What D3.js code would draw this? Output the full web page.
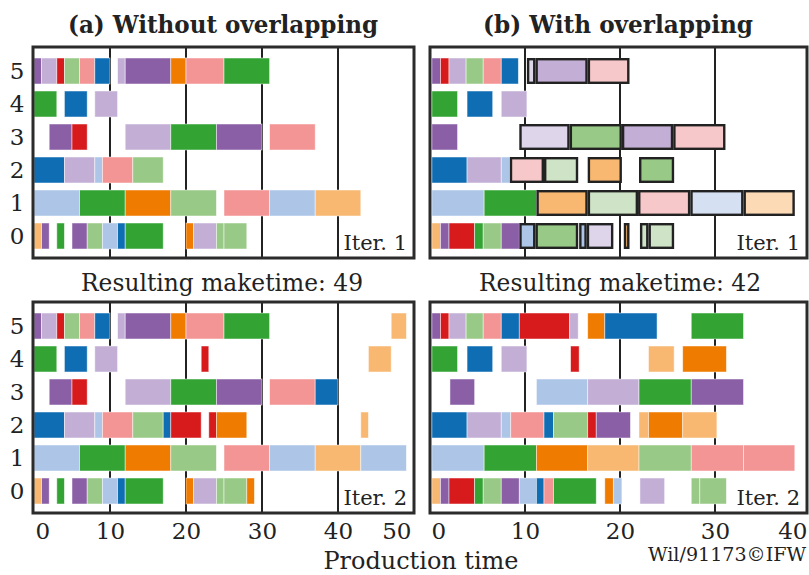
<!DOCTYPE html>
<html>
<head>
<meta charset="utf-8">
<script src="https://cdn.jsdelivr.net/npm/d3@7"></script>
<style>
  body { margin: 0; background: #fff; }
  svg text { font-family: "DejaVu Serif", "Liberation Serif", serif; fill: #222; }
</style>
</head>
<body>
<svg id="chart" width="809" height="575"></svg>
<script>
// machines (rows) and x tick values
const machines = [0, 1, 2, 3, 4, 5];
const ticksA = [0, 10, 20, 30, 40, 50];
const ticksB = [0, 10, 20, 30, 40];

// job colour keys: B/b blue, O/o orange, G/g green, R/r red, P/p purple; doubled = pale
const jobColors = {
  B: '#0f6db3', b: '#adc6e7', O: '#ef7b00', o: '#f8b872', G: '#33a334', g: '#99c987',
  R: '#d71b1d', r: '#f29594', P: '#8a5fa6', p: '#c3afd6',
  pp: '#ded5eb', gg: '#cfe4c6', rr: '#f7c8c9', bb: '#d5e1f2', oo: '#fcdab6'
};

// [machine, start, end, job]  -- (a) without overlapping, iteration 1
const schedA1 = [
  [5, 0, 1, 'P'], [5, 1, 3, 'p'], [5, 3, 4, 'R'], [5, 4, 6, 'g'], [5, 6, 8, 'r'], [5, 8, 10, 'B'],
  [5, 11, 12, 'p'], [5, 12, 18, 'P'], [5, 18, 20, 'O'], [5, 20, 25, 'r'], [5, 25, 31, 'G'],
  [4, 0, 3, 'G'], [4, 4, 7, 'B'], [4, 8, 11, 'p'],
  [3, 2, 5, 'P'], [3, 5, 7, 'R'], [3, 12, 18, 'p'], [3, 18, 24, 'G'], [3, 24, 30, 'P'], [3, 31, 37, 'r'],
  [2, 0, 4, 'B'], [2, 4, 8, 'p'], [2, 8, 9, 'b'], [2, 9, 13, 'r'], [2, 13, 17, 'g'],
  [1, 0, 6, 'b'], [1, 6, 12, 'G'], [1, 12, 18, 'O'], [1, 18, 24, 'g'], [1, 25, 31, 'r'], [1, 31, 37, 'b'], [1, 37, 43, 'o'],
  [0, 0, 1, 'o'], [0, 1, 2, 'P'], [0, 3, 4, 'G'], [0, 5, 7, 'P'], [0, 7, 9, 'g'], [0, 9, 11, 'b'], [0, 11, 12, 'B'],
  [0, 12, 17, 'G'], [0, 20, 21, 'O'], [0, 21, 24, 'p'], [0, 24, 25, 'g'], [0, 25, 28, 'g']
];

// operations added in iteration 2 of (a)
const schedA2Added = [
  [5, 47, 49, 'o'],
  [4, 22, 23, 'R'], [4, 44, 47, 'o'],
  [3, 37, 40, 'B'],
  [2, 17, 18, 'B'], [2, 18, 22, 'R'], [2, 23, 24, 'R'], [2, 24, 28, 'O'], [2, 43, 44, 'o'],
  [1, 43, 49, 'b'],
  [0, 28, 29, 'O']
];
const schedA2 = schedA1.concat(schedA2Added);

// (b) with overlapping, iteration 1 -- 5th field marks overlapped operations
const schedB1 = [
  [5, 0.2, 1.1, 'P'], [5, 1.1, 2, 'R'], [5, 2, 3.8, 'p'], [5, 3.8, 5.6, 'g'], [5, 5.6, 7.5, 'r'], [5, 7.5, 9.3, 'B'],
  [5, 10.2, 11.1, 'pp', 1], [5, 11.1, 16.6, 'p', 1], [5, 16.6, 21.0, 'rr', 1],
  [4, 0.2, 2.9, 'G'], [4, 3.9, 6.6, 'B'], [4, 7.5, 10.2, 'p'],
  [3, 0.2, 2.9, 'P'], [3, 9.4, 14.7, 'pp', 1], [3, 14.7, 20.2, 'g', 1], [3, 20.2, 25.6, 'p', 1], [3, 25.6, 31.1, 'rr', 1],
  [2, 0.2, 3.9, 'B'], [2, 3.9, 7.5, 'p'], [2, 7.5, 8.4, 'b'],
  [2, 8.4, 12.0, 'rr', 1], [2, 12.0, 15.6, 'gg', 1], [2, 16.6, 20.2, 'o', 1], [2, 22.0, 25.7, 'g', 1],
  [1, 0.2, 5.7, 'b'], [1, 5.7, 11.2, 'G'],
  [1, 11.2, 16.6, 'o', 1], [1, 16.6, 21.9, 'gg', 1], [1, 21.9, 27.4, 'rr', 1], [1, 27.4, 33.0, 'bb', 1], [1, 33.0, 38.4, 'oo', 1],
  [0, 0.2, 1.1, 'o'], [0, 1.1, 2, 'P'], [0, 2, 4.7, 'R'], [0, 4.7, 5.6, 'G'], [0, 5.6, 7.5, 'g'], [0, 7.5, 9.4, 'P'],
  [0, 9.4, 11.1, 'b', 1], [0, 11.1, 15.6, 'g', 1], [0, 15.7, 16.5, 'b', 1], [0, 16.5, 19.3, 'pp', 1],
  [0, 20.4, 21.0, 'o', 1], [0, 22.1, 23.0, 'gg', 1], [0, 23.0, 25.7, 'gg', 1]
];

// (b) with overlapping, iteration 2
const schedB2 = [
  [5, 0.2, 1.1, 'P'], [5, 1.1, 2, 'R'], [5, 2, 3.8, 'p'], [5, 3.8, 5.6, 'g'], [5, 5.6, 7.5, 'r'], [5, 7.5, 9.4, 'B'],
  [5, 9.4, 14.7, 'R'], [5, 14.7, 15.6, 'p'], [5, 16.6, 18.4, 'O'], [5, 18.4, 23.9, 'B'], [5, 27.5, 33.0, 'G'],
  [4, 0.2, 2.9, 'G'], [4, 3.9, 6.6, 'B'], [4, 7.5, 10.2, 'p'], [4, 14.8, 15.7, 'R'], [4, 23.0, 25.7, 'o'], [4, 26.6, 31.2, 'O'],
  [3, 2.1, 4.7, 'P'], [3, 11.2, 16.6, 'b'], [3, 16.6, 22.0, 'p'], [3, 22.0, 27.5, 'G'], [3, 27.5, 33.0, 'P'],
  [2, 0.2, 3.9, 'B'], [2, 3.9, 7.5, 'p'], [2, 7.5, 8.5, 'b'], [2, 8.5, 12.0, 'r'], [2, 12.0, 13.0, 'B'], [2, 13.0, 16.6, 'g'],
  [2, 16.6, 17.5, 'R'], [2, 17.5, 21.1, 'P'], [2, 22.0, 23.0, 'o'], [2, 23.0, 26.6, 'O'], [2, 26.6, 30.2, 'o'],
  [1, 0.2, 5.7, 'b'], [1, 5.7, 11.2, 'G'], [1, 11.2, 16.6, 'O'], [1, 16.6, 22.0, 'o'], [1, 22.0, 27.5, 'g'],
  [1, 27.5, 33.0, 'r'], [1, 33.0, 38.4, 'r'],
  [0, 0.2, 1.1, 'o'], [0, 1.1, 2, 'P'], [0, 2, 4.7, 'R'], [0, 4.7, 5.6, 'G'], [0, 5.6, 7.5, 'g'], [0, 7.5, 9.4, 'P'],
  [0, 9.4, 11.2, 'b'], [0, 11.2, 12.0, 'B'], [0, 12.0, 13.0, 'r'], [0, 13.0, 17.5, 'G'], [0, 18.4, 19.3, 'O'],
  [0, 19.3, 20.2, 'b'], [0, 22.1, 24.7, 'p'], [0, 27.5, 28.4, 'g'], [0, 28.4, 31.2, 'g']
];

const titles = ['(a) Without overlapping', '(b) With overlapping'];
const maketimes = [49, 42];

const svg = d3.select('#chart');

const xA = d3.scaleLinear().domain([0, 50]).range([34, 414]);
const xB = d3.scaleLinear().domain([0, 40]).range([430, 810]);
const yTop = d3.scaleLinear().domain([0, 5]).range([236, 71]);
const yBot = d3.scaleLinear().domain([0, 5]).range([491, 326]);
const barH = 26;

const panels = [
  { x: xA, y: yTop, data: schedA1, frame: [33, 414, 47, 258], grid: [10, 20, 30, 40], iter: 'Iter. 1' },
  { x: xA, y: yBot, data: schedA2, frame: [33, 414, 302, 513], grid: [10, 20, 30, 40], iter: 'Iter. 2' },
  { x: xB, y: yTop, data: schedB1, frame: [430, 807, 47, 258], grid: [10, 20, 30], iter: 'Iter. 1' },
  { x: xB, y: yBot, data: schedB2, frame: [430, 807, 302, 513], grid: [10, 20, 30], iter: 'Iter. 2' }
];

panels.forEach(p => {
  const [fx0, fx1, fy0, fy1] = p.frame;
  const g = svg.append('g');

  g.selectAll('.grid')
    .data(p.grid)
    .enter()
    .append('line')
    .attr('x1', d => p.x(d)).attr('x2', d => p.x(d))
    .attr('y1', fy0).attr('y2', fy1)
    .attr('stroke', '#222').attr('stroke-width', 2);

  // plain operations
  g.selectAll('.op')
    .data(p.data.filter(d => !d[4]))
    .enter()
    .append('rect')
    .attr('x', d => p.x(d[1]))
    .attr('y', d => p.y(d[0]) - barH / 2)
    .attr('width', d => p.x(d[2]) - p.x(d[1]))
    .attr('height', barH)
    .attr('fill', d => jobColors[d[3]])
    .attr('stroke', '#fff').attr('stroke-opacity', 0.6).attr('stroke-width', 0.8);

  // overlapped operations, outlined
  g.selectAll('.ov')
    .data(p.data.filter(d => d[4]))
    .enter()
    .append('rect')
    .attr('x', d => p.x(d[1]) + 1.2)
    .attr('y', d => p.y(d[0]) - barH / 2 + 1.2)
    .attr('width', d => Math.max(1, p.x(d[2]) - p.x(d[1]) - 2.4))
    .attr('height', barH - 2.4)
    .attr('fill', d => jobColors[d[3]])
    .attr('stroke', '#222').attr('stroke-width', 2.4);

  g.append('rect')
    .attr('x', fx0).attr('y', fy0)
    .attr('width', fx1 - fx0).attr('height', fy1 - fy0)
    .attr('fill', 'none').attr('stroke', '#2b2b2b').attr('stroke-width', 3);

  g.append('text')
    .attr('x', fx1 - 7).attr('y', fy1 - 8)
    .attr('text-anchor', 'end')
    .attr('font-size', 21)
    .text(p.iter);
});

// machine labels on the left
[yTop, yBot].forEach(y => {
  svg.selectAll(null)
    .data(machines)
    .enter()
    .append('text')
    .attr('x', 17).attr('y', d => y(d) + 8)
    .attr('text-anchor', 'middle')
    .attr('font-size', 23)
    .text(d => d);
});

// x axes
[[xA, ticksA], [xB, ticksB]].forEach(([x, ticks]) => {
  const ax = svg.append('g')
    .attr('transform', 'translate(0,514)')
    .call(d3.axisBottom(x).tickValues(ticks).tickSize(0).tickPadding(7));
  ax.select('.domain').remove();
  ax.selectAll('text')
    .style('font-family', '"DejaVu Serif", serif')
    .attr('font-size', 23)
    .attr('fill', '#222')
    .attr('dy', '0.8em')
    .attr('text-anchor', (d, i) => i === 0 ? 'start' : i === ticks.length - 1 ? 'end' : 'middle')
    .attr('dx', (d, i) => i === 0 ? 1 : i === ticks.length - 1 ? -3 : 0);
});

// titles and maketimes
titles.forEach((t, i) => {
  const cx = i === 0 ? 223 : 618;
  svg.append('text')
    .attr('x', cx).attr('y', 33)
    .attr('text-anchor', 'middle')
    .attr('font-size', 25).attr('font-weight', 'bold')
    .attr('textLength', i === 0 ? 310 : 270).attr('lengthAdjust', 'spacingAndGlyphs')
    .text(t);
  svg.append('text')
    .attr('x', i === 0 ? 222 : 620).attr('y', 291)
    .attr('text-anchor', 'middle')
    .attr('font-size', 25)
    .attr('textLength', 282).attr('lengthAdjust', 'spacingAndGlyphs')
    .text('Resulting maketime: ' + maketimes[i]);
});

svg.append('text')
  .attr('x', 421).attr('y', 569)
  .attr('text-anchor', 'middle')
  .attr('font-size', 25)
  .attr('textLength', 195).attr('lengthAdjust', 'spacingAndGlyphs')
  .text('Production time');

svg.append('text')
  .attr('x', 806).attr('y', 561)
  .attr('text-anchor', 'end')
  .attr('font-size', 18)
  .attr('textLength', 158).attr('lengthAdjust', 'spacingAndGlyphs')
  .text('Wil/91173©IFW');
</script>
</body>
</html>
